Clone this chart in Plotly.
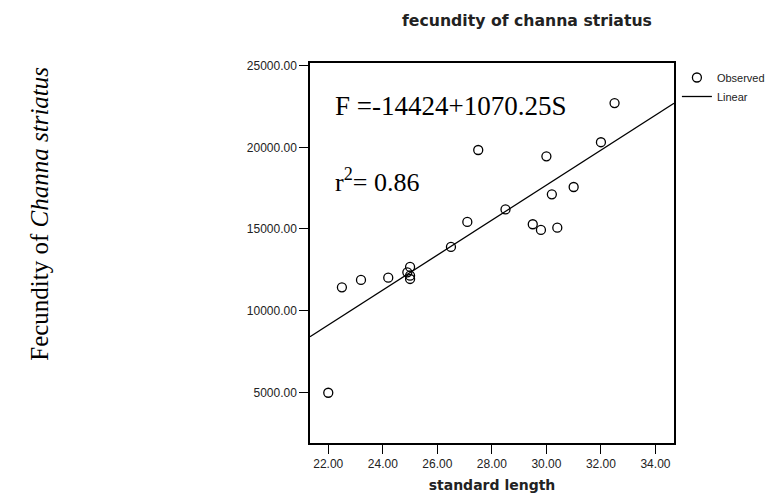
import plotly.graph_objects as go

standard_length = [22.0, 22.5, 23.2, 24.2, 24.9, 25.0, 25.0, 25.0, 26.5, 27.1,
                   27.5, 28.5, 29.5, 29.8, 30.0, 30.2, 30.4, 31.0, 32.0, 32.5]
fecundity = [4975, 11430, 11880, 12020, 12350, 12675, 12140, 11940, 13900, 15430,
             19835, 16200, 15290, 14940, 19450, 17120, 15080, 17570, 20310, 22710]
intercept = -14424
slope = 1070.25
x_range = [21.33, 34.68]
y_range = [1900, 25160]
x_ticks = [22, 24, 26, 28, 30, 32, 34]
y_ticks = [5000, 10000, 15000, 20000, 25000]

line_x = list(x_range)
line_y = [intercept + slope * v for v in line_x]

fig = go.Figure()
fig.add_trace(go.Scatter(
    x=standard_length, y=fecundity, mode="markers", name="Observed",
    marker=dict(symbol="circle-open", size=9, color="black", line=dict(width=1.3, color="black")),
))
fig.add_trace(go.Scatter(
    x=line_x, y=line_y, mode="lines", name="Linear",
    line=dict(color="black", width=1.3),
))

axis_common = dict(
    showgrid=False, zeroline=False, showline=True, linecolor="black", linewidth=1.5,
    mirror=True, ticks="outside", ticklen=9, tickwidth=1.3, tickcolor="black",
    tickformat=".2f", tickfont=dict(family="Liberation Sans, Arial", size=12, color="#222"),
    automargin=False,
)
fig.update_xaxes(range=x_range, tickvals=x_ticks, **axis_common,
                 title=dict(text="<b>standard length</b>", standoff=10,
                            font=dict(family="DejaVu Sans", size=14, color="#222")))
fig.update_yaxes(range=y_range, tickvals=y_ticks, **axis_common)

fig.update_layout(
    width=767, height=485,
    margin=dict(l=302, r=101, t=55, b=50, autoexpand=False),
    plot_bgcolor="white", paper_bgcolor="white",
    showlegend=True,
    legend=dict(x=1.008, y=1.0, xanchor="left", yanchor="top", xref="paper", yref="paper",
                font=dict(family="Liberation Sans, Arial", size=11, color="#222"),
                bgcolor="rgba(0,0,0,0)", tracegroupgap=0, itemwidth=30),
    annotations=[
        dict(text="<b>fecundity of channa striatus</b>", x=0.596, y=1.113, xref="paper", yref="paper",
             xanchor="center", yanchor="middle", showarrow=False,
             font=dict(family="DejaVu Sans", size=15.7, color="#222")),
        dict(text="F =-14424+1070.25S", x=0.063, y=0.888, xref="paper", yref="paper",
             xanchor="left", yanchor="middle", showarrow=False,
             font=dict(family="Liberation Serif, Times New Roman", size=27, color="black")),
        dict(text="r<sup>2</sup>= 0.86", x=0.063, y=0.692, xref="paper", yref="paper",
             xanchor="left", yanchor="middle", showarrow=False,
             font=dict(family="Liberation Serif, Times New Roman", size=26, color="black")),
        dict(text="Fecundity of <i>Channa striatus</i>", x=-0.742, y=0.603, xref="paper", yref="paper",
             textangle=-90, xanchor="center", yanchor="middle", showarrow=False,
             font=dict(family="Liberation Serif, Times New Roman", size=25, color="black")),
    ],
)

fig.write_html("out.html")
